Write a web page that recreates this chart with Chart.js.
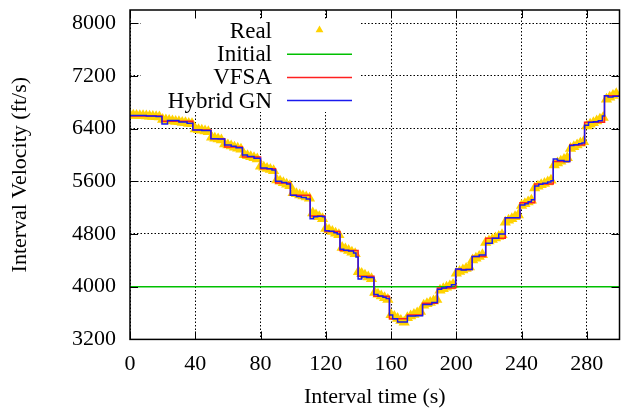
<!DOCTYPE html>
<html><head><meta charset="utf-8">
<script src="https://cdn.jsdelivr.net/npm/chart.js@4.4.0/dist/chart.umd.min.js"></script>
<style>
html,body{margin:0;padding:0;overflow:hidden;background:#fff;width:621px;height:410px}
#wrap{position:relative;width:626px;height:410px}
</style>
</head><body><div id="wrap"><canvas id="c" width="626" height="410"></canvas></div>
<script>
const realT=[0,2,4,6,8,10,12,14,16,18,20,22,24,26,28,30,32,34,36,38,40,42,44,46,48,50,52,54,56,58,60,62,64,66,68,70,72,74,76,78,80,82,84,86,88,90,92,94,96,98,100,102,104,106,108,110,112,114,116,118,120,122,124,126,128,130,132,134,136,138,140,142,144,146,148,150,152,154,156,158,160,162,164,166,168,170,172,174,176,178,180,182,184,186,188,190,192,194,196,198,200,202,204,206,208,210,212,214,216,218,220,222,224,226,228,230,232,234,236,238,240,242,244,246,248,250,252,254,256,258,260,262,264,266,268,270,272,274,276,278,280,282,284,286,288,290,292,294,296,298];
const realV=[6605,6602,6599,6596,6593,6590,6587,6584,6580,6577,
6539,6531,6524,6516,6509,6502,6494,6487,6479,6472,
6393,6383,6373,6363,6353,
6267,6254,6241,6228,
6165,6149,6134,6118,6103,6087,
6002,5986,5971,5956,5940,
5830,5813,5795,5778,5760,
5621,5599,5577,5555,5533,
5426,5409,5393,5376,5360,5343,
5117,5089,5060,5031,
4884,4860,4836,4812,4788,
4595,4571,4548,4524,4501,
4227,4201,4174,4147,4120,
3913,3886,3858,3831,3804,
3575,3546,3517,3488,3459,
3530,3554,3577,3601,3625,
3718,3740,3762,3784,3806,
3947,3969,3990,4011,4033,
4205,4229,4252,4276,4300,
4404,4431,4457,4484,
4670,4693,4717,4740,4763,4787,
4980,5007,5033,5060,5087,
5233,5260,5287,5313,
5500,5523,5546,5568,5591,5614,
5848,5876,5904,5931,5959,
6097,6123,6149,6176,6202,
6438,6464,6490,6517,6543,6569,
6847,6874,6902,6930];
const initialT=[0,300];
const initialV=[4000,4000];
const vfsaT=[0,19.6,38.5,49.6,58,68.9,80,89.2,98.3,110.4,119.5,128.7,139.8,149.5,159,170,179.3,188.4,199.6,209.7,218,230,239,248,259.4,269.5,278.6,290.8,300];
const vfsaV=[6590,6510,6380,6245,6120,5967,5790,5575,5389,5074,4837,4548,4158,3855,3512,3570,3750,3980,4260,4457,4735,5046,5275,5560,5900,6150,6495,6898,6898];
const gnT=[0,10,16,19.6,23,30,35,38.5,44,49.6,54,58,62,65,68.9,72,76,80,84,87,89.2,93,96,98.3,102,105,108,110.4,112.5,115,118,119.5,122,125,127,128.7,131,134,137,138.5,139.8,142,145,149.5,152,155,157,159,161,164,170,175,179.3,185,188.4,191,194,197,199.6,203,206,209.7,214,218,222,226,230,239,242,244,246,248,250.5,253,256,258,259.4,262,266,269.5,272,275,277,278.6,281,284,287,289.5,290.8,293,296,300];
const gnV=[6600,6590,6585,6471,6521,6500,6480,6380,6370,6245,6240,6150,6130,6110,6000,5975,5950,5800,5790,5770,5600,5580,5560,5389,5370,5355,5330,5030,5060,5070,5060,4850,4840,4820,4800,4570,4555,4540,4510,4450,4117,4150,4140,3880,3860,3840,3820,3570,3512,3464,3557,3560,3728,3760,3960,3980,4000,4030,4267,4255,4260,4457,4480,4660,4735,4800,5046,5240,5260,5290,5320,5530,5555,5570,5590,5610,5940,5917,5900,6143,6155,6170,6180,6450,6495,6505,6520,6590,6898,6880,6890,6890];
const xTicks=[0,40,80,120,160,200,240,280];
const yTicks=[3200,4000,4800,5600,6400,7200,8000];
const legendLabels=['Real','Initial','VFSA','Hybrid GN'];
const colReal='#ffd200', colInit='#00c000', colVfsa='#ff2020', colGn='#1a1aee';

const FAM='"Liberation Serif","Times New Roman",serif';
const FS=22;
const pts=(T,V)=>T.map((t,i)=>({x:t,y:V[i]}));

const framePlugin={
  id:'frame',
  beforeDatasetsDraw(chart){
    const a=chart.chartArea, ctx=chart.ctx;
    ctx.save();ctx.fillStyle='#fff';
    ctx.fillRect(a.left+11,a.top+9,220,93);
    ctx.restore();
  },
  afterDatasetsDraw(chart){
    const a=chart.chartArea, ctx=chart.ctx;
    ctx.save();
    ctx.font='23px '+FAM;ctx.fillStyle='#000';ctx.textAlign='right';ctx.textBaseline='middle';
    const rows=[a.top+21,a.top+44.2,a.top+67.4,a.top+90.6];
    const tx=a.left+142, l0=a.left+157, l1=a.left+222;
    const cols=[colReal,colInit,colVfsa,colGn];
    legendLabels.forEach((s,i)=>{
      ctx.fillText(s,tx,rows[i]+1);
      if(i===0){
        const cx=(l0+l1)/2, cy=rows[0]-1, r=4.5;
        ctx.fillStyle=colReal;ctx.beginPath();
        ctx.moveTo(cx,cy-r);ctx.lineTo(cx+r*0.866,cy+r*0.5);ctx.lineTo(cx-r*0.866,cy+r*0.5);ctx.closePath();ctx.fill();
        ctx.fillStyle='#000';
      }else{
        ctx.strokeStyle=cols[i];ctx.lineWidth=1.5;ctx.beginPath();
        ctx.moveTo(l0,rows[i]);ctx.lineTo(l1,rows[i]);ctx.stroke();
      }
    });
    ctx.restore();
  },
  afterDraw(chart){
    const a=chart.chartArea, ctx=chart.ctx, sx=chart.scales.x, sy=chart.scales.y;
    ctx.save();
    ctx.strokeStyle='#000';ctx.lineWidth=1.5;
    ctx.strokeRect(a.left,a.top,a.right-a.left,a.bottom-a.top);
    ctx.lineWidth=1;ctx.beginPath();
    const L=8;
    xTicks.forEach(v=>{const p=Math.round(sx.getPixelForValue(v))+0.5;
      ctx.moveTo(p,a.bottom);ctx.lineTo(p,a.bottom-L);ctx.moveTo(p,a.top);ctx.lineTo(p,a.top+L);});
    yTicks.forEach(v=>{const p=Math.round(sy.getPixelForValue(v))+0.5;
      ctx.moveTo(a.left,p);ctx.lineTo(a.left+L,p);ctx.moveTo(a.right,p);ctx.lineTo(a.right-L,p);});
    ctx.stroke();ctx.restore();
  }
};

new Chart(document.getElementById('c'),{
  type:'scatter',
  data:{datasets:[
    {label:legendLabels[0],data:pts(realT,realV),showLine:false,pointStyle:'triangle',pointRadius:6.5,pointHoverRadius:6.5,
     pointBackgroundColor:colReal,pointBorderColor:colReal,pointBorderWidth:0,order:4},
    {label:legendLabels[1],data:pts(initialT,initialV),showLine:true,borderColor:colInit,borderWidth:1.5,pointRadius:0,order:3},
    {label:legendLabels[2],data:pts(vfsaT,vfsaV),showLine:true,stepped:'before',borderColor:colVfsa,borderWidth:1.5,pointRadius:0,order:2},
    {label:legendLabels[3],data:pts(gnT,gnV),showLine:true,stepped:'before',borderColor:colGn,borderWidth:1.5,pointRadius:0,order:1}
  ]},
  options:{
    responsive:false,animation:false,devicePixelRatio:1,
    layout:{padding:{top:10,right:2.4,left:0,bottom:0}},
    plugins:{legend:{display:false},tooltip:{enabled:false}},
    scales:{
      x:{type:'linear',min:0,max:300,
        afterBuildTicks:s=>{s.ticks=xTicks.map(v=>({value:v}));},
        afterFit:s=>{s.height=70.6;s.paddingLeft=0;s.paddingRight=0;},
        grid:{color:'#000',lineWidth:1,drawTicks:false},
        border:{display:false,dash:[1.5,2]},
        ticks:{color:'#000',font:{family:FAM,size:FS},padding:12,maxRotation:0,autoSkip:false,callback:v=>String(v)},
        title:{display:true,text:'Interval time (s)',color:'#000',font:{family:FAM,size:FS},padding:{top:0,bottom:0}}
      },
      y:{type:'linear',min:3200,max:8200,
        afterBuildTicks:s=>{s.ticks=yTicks.map(v=>({value:v}));},
        afterFit:s=>{s.width=130;s.paddingTop=0;s.paddingBottom=0;},
        grid:{color:'#000',lineWidth:1,drawTicks:false},
        border:{display:false,dash:[1.5,2]},
        ticks:{color:'#000',font:{family:FAM,size:FS},padding:14,autoSkip:false,callback:v=>String(v)},
        title:{display:true,text:'Interval Velocity (ft/s)',color:'#000',font:{family:FAM,size:FS},padding:{top:7,bottom:0}}
      }
    }
  },
  plugins:[framePlugin]
});
</script>
</body></html>
